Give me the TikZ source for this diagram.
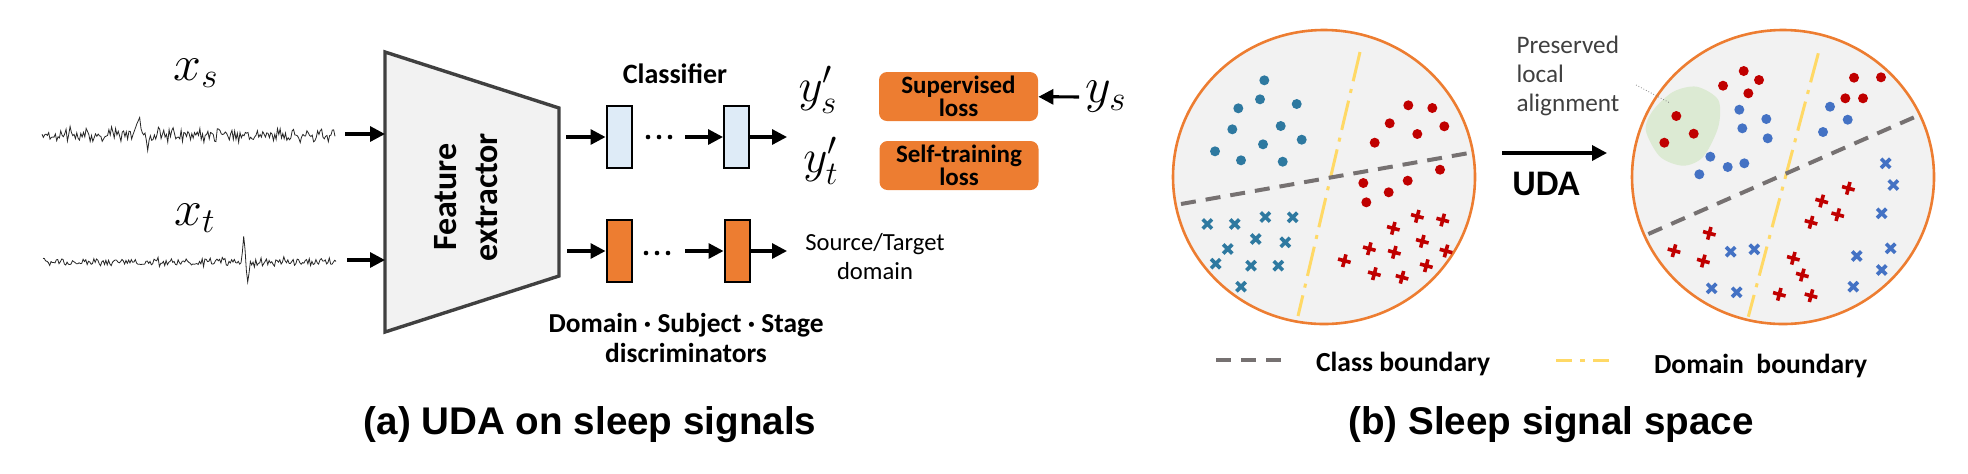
\RequirePackage{fix-cm}
\documentclass[tikz,border=0pt]{standalone}
\usepackage{fontspec}
\setmainfont{Carlito}
\newfontfamily\capfont{Liberation Sans}
\usepackage{amsmath}
\usetikzlibrary{arrows.meta,positioning,calc}

\definecolor{uorange}{HTML}{ED7D31}
\definecolor{ublue}{HTML}{DEEBF7}
\definecolor{ugray}{HTML}{F2F2F2}
\definecolor{udark}{HTML}{404040}
\definecolor{uteal}{HTML}{2E79A0}
\definecolor{uroyal}{HTML}{4472C4}
\definecolor{ured}{HTML}{C00000}
\definecolor{uline}{HTML}{767171}
\definecolor{uyellow}{HTML}{FFD966}
\definecolor{ugreen}{HTML}{DCEAD3}

% one cross marker: x, y, colour, angle
\newcommand{\uxcross}[4]{%
  \draw[#3,line width=1.8pt,rotate around={#4:(#1,#2)}] (#1-6.5,#2) -- (#1+6.5,#2) (#1,#2-6.5) -- (#1,#2+6.5);}

\begin{document}
\begin{tikzpicture}[x=0.5pt,y=0.5pt,yscale=-1,
  arr/.style={line width=1.6pt,-{Triangle[length=7.5pt,width=7.5pt]}},
  sig/.style={line width=0.4pt,black!85},
  mathlab/.style={font=\fontsize{25}{25}\selectfont,inner sep=0pt},
  clsbox/.style={draw=black,line width=1pt,fill=ublue,minimum width=12.5pt,minimum height=31pt,inner sep=0pt},
  discbox/.style={clsbox,fill=uorange},
  lossbox/.style={fill=uorange,rounded corners=4pt,minimum width=79.5pt,minimum height=24.5pt,align=center,inner sep=0pt,font=\fontsize{12.5}{11.5}\selectfont\bfseries},
  sigspace/.style={draw=uorange,line width=1.3pt,fill=ugray},
  clsline/.style={uline,line width=2pt,dash pattern=on 7.5pt off 5pt},
  domline/.style={uyellow,line width=1.5pt,dash pattern=on 15pt off 4pt on 2pt off 4pt},
]
\useasboundingbox (0,0) rectangle (1968,473);

%%%%%%%%%% (a) UDA on sleep signals
% Signals
\pgfmathsetseed{7}
\draw[sig] plot[domain=42:335,samples=220] (\x,{135+4.5*rand+7*rand*rand+2*sin(\x*29)-26*max(0,1-abs(\x-139)/3)+13*max(0,1-abs(\x-148)/3)});
\draw[sig] plot[domain=43:336,samples=220] (\x,{262+3*rand+3.5*rand*rand-26*max(0,1-abs(\x-244)/3)+21*max(0,1-abs(\x-247.5)/3)});
% Text Node
\node[mathlab] (xs) at (196,73) {$x_s$};
% Text Node
\node[mathlab] (xt) at (195,218) {$x_t$};

% Feature extractor
\coordinate (feTL) at (385,52);
\coordinate (feTR) at (559,108);
\coordinate (feBR) at (559,276);
\coordinate (feBL) at (385,332);
\draw[draw=udark,line width=1.7pt,fill=ugray] (feTL) -- (feTR) -- (feBR) -- (feBL) -- cycle;
\node[rotate=90,align=center,font=\fontsize{17}{20.5}\selectfont\bfseries] (fe) at (466,197) {Feature\\extractor};

\coordinate (sEnd) at (345,134);
\coordinate (feIn1) at (385,134);
\coordinate (tEnd) at (347,260);
\coordinate (feIn2) at (385,260);
\draw[arr] (sEnd) -- (feIn1);
\draw[arr] (tEnd) -- (feIn2);

% Classifier
\node[font=\fontsize{14}{14}\selectfont\bfseries] (clslab) at (675,74) {Classifier};
\node[clsbox] (cls1) at (619,137) {};
\node[clsbox] (cls2) at (736.5,137) {};
\foreach \dx in {648,659,670} \fill (\dx,137) circle (2.3);
\coordinate (feOut1) at (566,137);
\coordinate (clsIn2) at (685,137);
\coordinate (clsOut) at (787,137);
\draw[arr] (feOut1) -- (cls1.west);
\draw[arr] (clsIn2) -- (cls2.west);
\draw[arr] (cls2.east) -- (clsOut);

% Discriminators
\node[discbox] (dis1) at (619,251) {};
\node[discbox] (dis2) at (737,251) {};
\foreach \dx in {646,657,668} \fill (\dx,253) circle (2.3);
\coordinate (feOut2) at (567,251);
\coordinate (disIn2) at (685,251);
\coordinate (disOut) at (787,251);
\draw[arr] (feOut2) -- (dis1.west);
\draw[arr] (disIn2) -- (dis2.west);
\draw[arr] (dis2.east) -- (disOut);
\node[align=center,font=\fontsize{12.3}{14.5}\selectfont] (stdom) at (875,257) {Source/Target\\domain};
\node[align=center,font=\fontsize{13.7}{15}\selectfont\bfseries] (dislab) at (686,338) {Domain · Subject · Stage\\discriminators};

% Predictions and losses
\node[mathlab,font=\fontsize{23.5}{23.5}\selectfont] (yps) at (818,90) {$y'_s$};
\node[mathlab,font=\fontsize{23.5}{23.5}\selectfont] (ypt) at (821,161) {$y'_t$};
\node[lossbox] (suploss) at (958.5,96.5) {Supervised\\loss};
\node[lossbox] (stloss) at (959,165.5) {Self-training\\loss};
\node[mathlab,inner sep=3pt] (ys) at (1106,97) {$y_s$};
\draw[arr] (ys) -- (suploss);

% Caption
\node[font=\fontsize{19.3}{20}\capfont\bfseries] (capa) at (590,425) {(a) UDA on sleep signals};

%%%%%%%%%% (b) Sleep signal space
% Source space
\draw[sigspace] (1324,177) ellipse [x radius=151, y radius=147];
\draw[domline] (1360,52) -- (1298,316);
\draw[clsline] (1181,204) -- (1469,153);
\foreach \px/\py in {1264.3/80.3, 1260/99.3, 1238.3/108.3, 1296.7/104, 1232.3/129.3, 1280.7/126, 1215/151.3, 1263/144.3, 1301.7/139.7, 1241/160.3, 1282.7/161.7}
  \fill[uteal] (\px,\py) circle (5);
\foreach \px/\py in {1408.3/105.3, 1432.3/108, 1389.7/123.3, 1444.3/126.3, 1417.3/134, 1374.7/142.7, 1440/169.7, 1363.3/183, 1407.7/180.7, 1388.7/192.3, 1366.3/202.3}
  \fill[ured] (\px,\py) circle (5);
\foreach \px/\py in {1207.3/224, 1234.7/224, 1265.3/217, 1292.7/217.3, 1255.7/239, 1285.3/242.3, 1227.7/249, 1215.7/263.7, 1251/265.7, 1278.3/265.7, 1241/286.7}
  \uxcross{\px}{\py}{uteal}{45};
\foreach \px/\py in {1417.3/216.3, 1442.7/220, 1393.3/228.3, 1369.3/248.7, 1422.3/241.3, 1394.3/252.3, 1446/251, 1344.3/260.7, 1426.3/265.7, 1374.3/273.7, 1402/277.3}
  \uxcross{\px}{\py}{ured}{15};

% UDA arrow
\coordinate (udaA) at (1502,153);
\coordinate (udaB) at (1607,153);
\draw[arr,line width=1.7pt] (udaA) -- (udaB);
\node[font=\fontsize{18}{18}\selectfont\bfseries] (uda) at (1546,184) {UDA};

% Adapted space
\draw[sigspace] (1783,177) ellipse [x radius=151, y radius=147];
\fill[ugreen] plot[smooth cycle] coordinates {(1696.7,86.7) (1718.3,100) (1718.3,126.7) (1703.3,156.7) (1683.3,165.7) (1660,156.7) (1645.7,130) (1653.3,110) (1673.3,91.7)};
\draw[domline] (1818.3,53.3) -- (1748.3,316.7);
\draw[clsline] (1648.3,234) -- (1919.3,115);
\foreach \px/\py in {1743.7/71, 1723/85.7, 1759/80, 1748.3/93.3, 1676.3/116, 1693.7/133.7, 1664.3/142.7, 1854/77.7, 1881/77.3, 1845.3/98.3, 1863/98.3}
  \fill[ured] (\px,\py) circle (5);
\foreach \px/\py in {1739.3/109.7, 1766.3/119, 1742.3/128.3, 1767.7/138.3, 1710.3/156.7, 1727.7/167, 1744.3/163.3, 1699.3/174.3, 1830/106.7, 1847.7/119.7, 1823/132}
  \fill[uroyal] (\px,\py) circle (5);
\foreach \px/\py in {1848.3/188.3, 1821.7/201, 1837.7/214.7, 1811/222.3, 1709.3/233.3, 1674/250.7, 1703.3/261, 1793.3/258.3, 1802.3/275, 1779.3/294.3, 1811/295.7}
  \uxcross{\px}{\py}{ured}{15};
\foreach \px/\py in {1885.7/163.3, 1893.3/185, 1881.7/213.3, 1730.7/251.7, 1754.3/249.3, 1856.7/256, 1890.7/248.3, 1881.7/270, 1711.7/288.3, 1736.7/292.3, 1853.3/286.7}
  \uxcross{\px}{\py}{uroyal}{45};

% Annotation
\node[align=left,text=udark,font=\fontsize{12.6}{14.3}\selectfont] (annot) at (1568,76) {Preserved\\local\\alignment};
\coordinate (annA) at (1636,85);
\coordinate (annB) at (1670,103);
\draw[gray,line width=0.4pt,densely dotted] (annA) -- (annB);

% Legend
\draw[clsline] (1216,360) -- (1285,360);
\node[anchor=west,font=\fontsize{13.8}{14}\selectfont\bfseries] (lgcls) at (1309,364) {Class boundary};
\draw[uyellow,line width=1.5pt,dash pattern=on 8pt off 4pt on 2.5pt off 4pt] (1556,360) -- (1609,360);
\node[anchor=west,font=\fontsize{13.8}{14}\selectfont\bfseries] (lgdom) at (1647,366) {Domain\ \ boundary};

% Caption
\node[font=\fontsize{19.3}{20}\capfont\bfseries] (capb) at (1551,425) {(b) Sleep signal space};
\end{tikzpicture}
\end{document}
